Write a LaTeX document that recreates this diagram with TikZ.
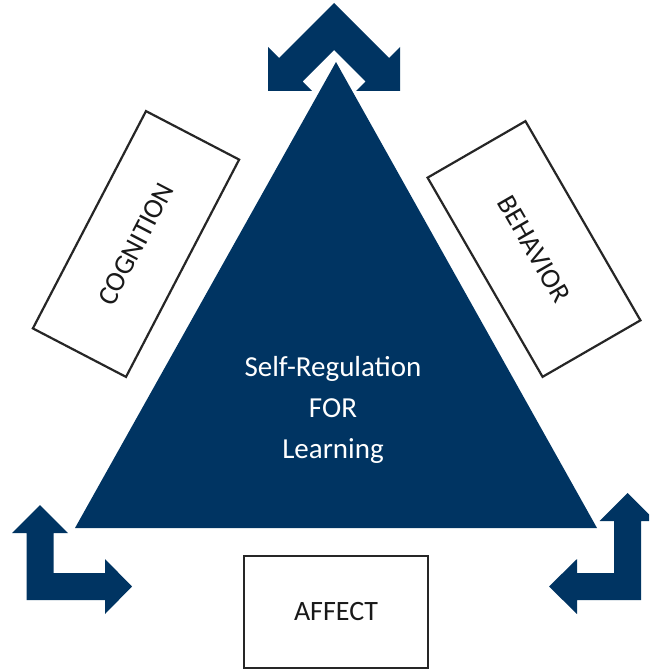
\documentclass[tikz,border=0pt]{standalone}
\usepackage{fontspec}
\setmainfont{Carlito}
\usepackage{tikz}
\usetikzlibrary{positioning}
\definecolor{srlBlue}{RGB}{0,52,98}
\tikzset{
	facet box/.style={
		rectangle,
		draw=black!85,
		line width=2.2pt,
		fill=white,
		inner sep=0pt,
		text=black!90,
		font=\fontsize{28}{34}\selectfont
	},
	bent arrow/.style={
		fill=srlBlue,
		draw=none
	},
}

\begin{document}
\begin{tikzpicture}[x=1pt,y=-1pt]
\useasboundingbox (0,0) rectangle (649,671);
\clip (0,0) rectangle (649,671);

\fill[srlBlue] (75,528) -- (336,62) -- (597,528) -- cycle;
\node[text=white, align=center, font=\fontsize{29}{41}\selectfont] (srl) at (333,410) {Self-Regulation\\FOR\\Learning};

\node[facet box, rotate=62.5, minimum width=245pt, minimum height=105pt] (cognition) at (136,244) {COGNITION};
\node[facet box, rotate=-60, minimum width=230pt, minimum height=113pt] (behavior) at (534,249) {BEHAVIOR};
\node[facet box, minimum width=184pt, minimum height=112pt] (affect) at (336,612) {AFFECT};

\fill[bent arrow] (334,3) -- (279,58) -- (268,47) -- (268,91) -- (312,91) -- (302.5,81.5)
	-- (334,50) -- (365.5,81.5) -- (356,91) -- (400,91) -- (400,47) -- (389,58) -- cycle;

\fill[bent arrow] (40,505) -- (68,533) -- (53.5,533) -- (53.5,573) -- (105,573) -- (105,559)
	-- (132,586.5) -- (105,614) -- (105,600) -- (26.5,600) -- (26.5,533) -- (12,533) -- cycle;

\fill[bent arrow] (627.5,493) -- (655.5,521) -- (641,521) -- (641,600) -- (577,600) -- (577,614)
	-- (549,586.5) -- (577,559) -- (577,573) -- (614,573) -- (614,521) -- (599.5,521) -- cycle;
\end{tikzpicture}
\end{document}
